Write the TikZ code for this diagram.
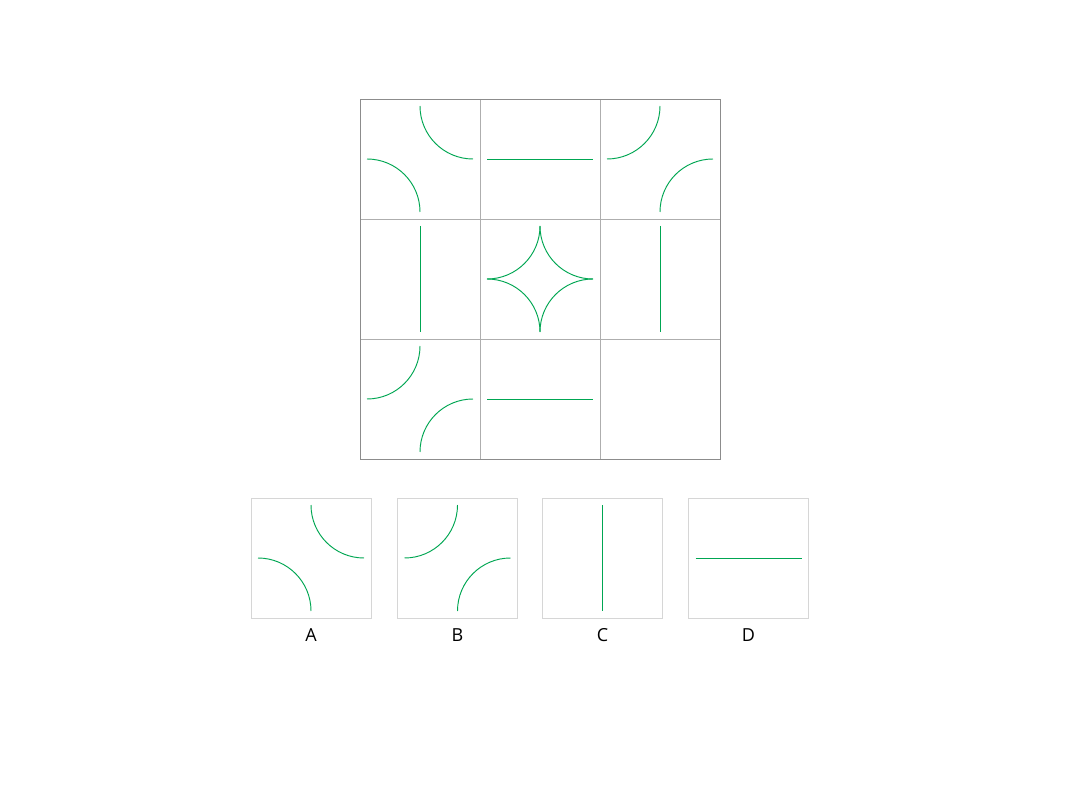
\documentclass[tikz,border=0pt]{standalone}
\usepackage{fontspec}
\setmainfont{Open Sans}
\usepackage{tikz,xcolor}
\usetikzlibrary{calc}
\definecolor{lgreen}{RGB}{0,166,82}
\definecolor{gridgray}{RGB}{140,140,140}
\definecolor{boxgray}{RGB}{214,214,214}
\tikzset{gline/.style={lgreen,line width=0.95pt}}
\def\rr{53}
% quarter arcs round a cell centre (#1,#2)
\newcommand{\arcTR}[2]{\draw[gline] (#1,#2-\rr) arc[start angle=180,end angle=90,radius=\rr];}
\newcommand{\arcBL}[2]{\draw[gline] (#1-\rr,#2) arc[start angle=270,end angle=360,radius=\rr];}
\newcommand{\arcTL}[2]{\draw[gline] (#1-\rr,#2) arc[start angle=90,end angle=0,radius=\rr];}
\newcommand{\arcBR}[2]{\draw[gline] (#1,#2+\rr) arc[start angle=180,end angle=270,radius=\rr];}
\newcommand{\hstroke}[2]{\draw[gline] (#1-\rr,#2) -- (#1+\rr,#2);}
\newcommand{\vstroke}[2]{\draw[gline] (#1,#2-\rr) -- (#1,#2+\rr);}
\begin{document}
\begin{tikzpicture}[x=1pt,y=-1pt]
\useasboundingbox (0,0) rectangle (1080,810);

% grid
\foreach \i in {1,2}{
\draw[gridgray!70,line width=0.8pt] (360+120*\i,99) -- (360+120*\i,459);
\draw[gridgray!70,line width=0.8pt] (360,99+120*\i) -- (720,99+120*\i);
}
\draw[gridgray,line width=0.9pt] (360,99) rectangle (720,459);

% row 1
\arcTR{420}{159}\arcBL{420}{159}
\hstroke{540}{159}
\arcTL{660}{159}\arcBR{660}{159}
% row 2
\vstroke{420}{279}
\arcTR{540}{279}\arcBL{540}{279}\arcTL{540}{279}\arcBR{540}{279}
\vstroke{660}{279}
% row 3
\arcTL{420}{399}\arcBR{420}{399}
\hstroke{540}{399}

% options
\foreach \x/\lab in {311/A,457.5/B,602.5/C,748.5/D}{
\draw[boxgray,line width=0.8pt] (\x-60,498) rectangle (\x+60,618);
\node (lab\lab) at (\x,635) {\fontsize{18}{21}\selectfont \lab};
}
\arcTR{311}{558}\arcBL{311}{558}
\arcTL{457.5}{558}\arcBR{457.5}{558}
\vstroke{602.5}{558}
\hstroke{748.5}{558}

\end{tikzpicture}
\end{document}
